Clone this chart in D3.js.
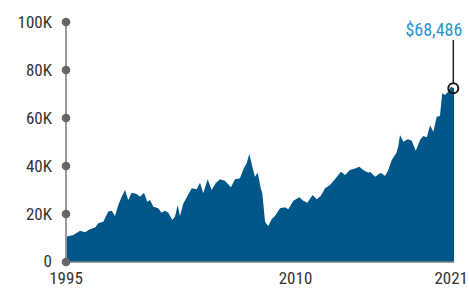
<!DOCTYPE html>
<html>
<head>
<meta charset="utf-8">
<script src="https://cdn.jsdelivr.net/npm/d3@7"></script>
<style>
  body { margin: 0; background: #fff; }
  text { font-family: "Roboto", "Liberation Sans", sans-serif; font-stretch: condensed; }
</style>
</head>
<body>
<div id="chart"></div>
<script>
const FRAME_WIDTH = 469;
const FRAME_HEIGHT = 288;
const MARGINS = {left: 66, right: 15, top: 22, bottom: 26};

// growth of the investment, decimal year and value in thousands
const YEARS = [1995.00, 1995.48, 1995.92, 1996.24, 1996.57, 1996.90, 1997.11, 1997.44, 1997.76, 1997.99,
  1998.20, 1998.42, 1998.64, 1998.86, 1999.07, 1999.29, 1999.62, 1999.84, 2000.10, 2000.31,
  2000.49, 2000.71, 2001.03, 2001.25, 2001.47, 2001.69, 2001.95, 2002.12, 2002.30, 2002.45,
  2002.67, 2002.89, 2003.22, 2003.54, 2003.76, 2003.97, 2004.26, 2004.52, 2004.78, 2005.07,
  2005.39, 2005.78, 2006.05, 2006.37, 2006.59, 2006.81, 2006.98, 2007.18, 2007.35, 2007.53,
  2007.73, 2007.83, 2008.01, 2008.22, 2008.44, 2008.66, 2008.99, 2009.31, 2009.53, 2009.86,
  2010.25, 2010.51, 2010.77, 2011.12, 2011.39, 2011.65, 2011.93, 2012.25, 2012.58, 2012.97,
  2013.24, 2013.56, 2013.89, 2014.17, 2014.43, 2014.76, 2014.87, 2015.20, 2015.52, 2015.63,
  2015.85, 2016.07, 2016.29, 2016.61, 2016.72, 2016.83, 2017.05, 2017.33, 2017.59, 2017.86,
  2018.14, 2018.35, 2018.58, 2018.80, 2019.01, 2019.23, 2019.44, 2019.59, 2019.77, 2019.99,
  2020.16, 2020.36];
const VALUES = [10.5, 11.2, 13.0, 12.4, 13.6, 14.4, 16.1, 16.8, 21.0, 21.4,
  19.2, 23.7, 27.2, 30.0, 25.8, 28.9, 28.3, 27.2, 28.9, 25.1,
  25.8, 23.0, 22.4, 20.5, 21.4, 20.5, 17.5, 18.9, 23.7, 19.2,
  24.4, 27.0, 30.7, 30.3, 33.0, 28.6, 34.5, 30.0, 32.8, 34.5,
  33.9, 31.1, 34.5, 34.9, 38.6, 41.1, 45.0, 39.7, 35.5, 37.2,
  30.7, 28.6, 16.8, 15.0, 17.8, 19.2, 22.4, 22.8, 22.0, 25.5,
  27.0, 25.5, 24.7, 27.9, 26.1, 27.5, 30.7, 32.1, 34.5, 37.6,
  36.3, 38.3, 39.0, 39.7, 38.3, 37.2, 37.6, 35.5, 37.0, 37.0,
  35.8, 38.3, 42.5, 45.6, 48.3, 52.9, 50.1, 51.1, 50.6, 46.4,
  50.8, 52.5, 52.0, 57.0, 54.3, 60.5, 60.8, 70.3, 69.6, 71.0,
  73.0, 72.4];

const Y_TICKS = [0, 20, 40, 60, 80, 100];
const Y_LABELS = ["0", "20K", "40K", "60K", "80K", "100K"];
const X_TICKS = [1995, 2010, 2020.36];
const X_LABELS = ["1995", "2010", "2021"];
const END_LABEL = "$68,486";

const data = YEARS.map((y, i) => ({year: y, value: VALUES[i]}));

const FRAME = d3.select("#chart")
  .append("svg")
    .attr("width", FRAME_WIDTH)
    .attr("height", FRAME_HEIGHT);

const X_SCALE = d3.scaleLinear()
  .domain([1995, 2020.36])
  .range([MARGINS.left, FRAME_WIDTH - MARGINS.right]);

const Y_SCALE = d3.scaleLinear()
  .domain([0, 100])
  .range([FRAME_HEIGHT - MARGINS.bottom, MARGINS.top]);

// filled area
const area = d3.area()
  .x(d => X_SCALE(d.year))
  .y0(Y_SCALE(0))
  .y1(d => Y_SCALE(d.value));

FRAME.append("path")
  .datum(data)
  .attr("d", area)
  .attr("fill", "#02578a");

// x axis baseline
FRAME.append("line")
  .attr("x1", X_SCALE(1995)).attr("x2", X_SCALE(2020.36))
  .attr("y1", Y_SCALE(0)).attr("y2", Y_SCALE(0))
  .attr("stroke", "#808080")
  .attr("stroke-width", 1.5);

// y axis line with dots
FRAME.append("line")
  .attr("x1", MARGINS.left).attr("x2", MARGINS.left)
  .attr("y1", Y_SCALE(0)).attr("y2", Y_SCALE(100))
  .attr("stroke", "#9a9a9a")
  .attr("stroke-width", 2);

FRAME.selectAll(".ydot")
  .data(Y_TICKS)
  .enter()
  .append("circle")
    .attr("cx", MARGINS.left)
    .attr("cy", d => Y_SCALE(d))
    .attr("r", 4.3)
    .attr("fill", "#666");

FRAME.selectAll(".ylabel")
  .data(Y_TICKS)
  .enter()
  .append("text")
    .attr("x", MARGINS.left - 14)
    .attr("y", d => Y_SCALE(d) + (d == 0 ? 5 : 6))
    .attr("text-anchor", "end")
    .attr("font-size", "17px")
    .attr("fill", "#333")
    .text((d, i) => Y_LABELS[i]);

FRAME.selectAll(".xlabel")
  .data(X_TICKS)
  .enter()
  .append("text")
    .attr("x", (d, i) => i == X_TICKS.length - 1 ? FRAME_WIDTH - 1 : X_SCALE(d))
    .attr("y", FRAME_HEIGHT - 4)
    .attr("text-anchor", (d, i) => i == X_TICKS.length - 1 ? "end" : "middle")
    .attr("font-size", "17px")
    .attr("fill", "#333")
    .text((d, i) => X_LABELS[i]);

// end value callout
const last = data[data.length - 1];
const lx = X_SCALE(last.year) - 0.7;
const ly = Y_SCALE(last.value);

FRAME.append("line")
  .attr("x1", lx).attr("x2", lx)
  .attr("y1", 40).attr("y2", ly - 5)
  .attr("stroke", "#222")
  .attr("stroke-width", 1.5);

FRAME.append("circle")
  .attr("cx", lx)
  .attr("cy", ly)
  .attr("r", 5)
  .attr("fill", "none")
  .attr("stroke", "#1a1a1a")
  .attr("stroke-width", 2);

FRAME.append("text")
  .attr("x", lx + 9)
  .attr("y", 36)
  .attr("text-anchor", "end")
  .attr("font-size", "18px")
  .attr("fill", "#2b93d1")
  .text(END_LABEL);
</script>
</body>
</html>
